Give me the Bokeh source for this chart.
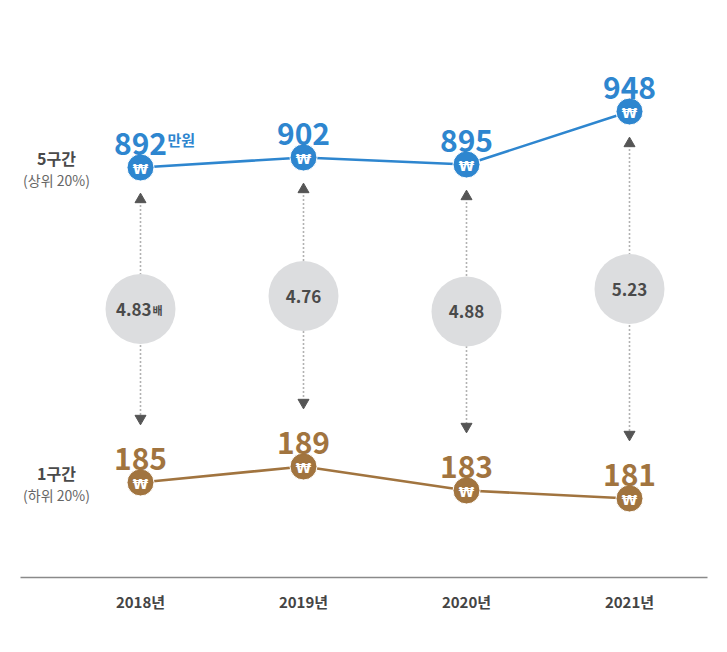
from bokeh.plotting import figure
from bokeh.models import Range1d
from bokeh.core.properties import value
from bokeh.embed import file_html
from bokeh.resources import INLINE

# ---- data ----
years = [2018, 2019, 2020, 2021]
year_labels = ["2018년", "2019년", "2020년", "2021년"]
top_values = [892, 902, 895, 948]      # 5구간 (상위 20%), 만원
bottom_values = [185, 189, 183, 181]   # 1구간 (하위 20%), 만원
ratios = ["4.83", "4.76", "4.88", "5.23"]
ratio_unit = "배"
value_unit = "만원"
top_name, top_sub = "5구간", "(상위 20%)"
bottom_name, bottom_sub = "1구간", "(하위 20%)"

# ---- style ----
FONT = value("Noto Sans CJK KR")
BLUE = "#2E86CF"
BROWN = "#A1743F"
GREY_TXT = "#4a4a4a"
W, H = 711, 636

# ranges
x_start = 2018 - 140 / 163.0
x_end = x_start + W / 163.0
up_range = Range1d(423, 1059)
lo_range = Range1d(146.5, 305.5)
main_y = Range1d(636, 0)   # pixel-like coordinates, top = 0


def to_px(v, rng):
    # position (in main range) of a value of an extra range
    frac = (v - rng.start) / (rng.end - rng.start)
    return main_y.start + frac * (main_y.end - main_y.start)


p = figure(width=W, height=H, x_range=Range1d(x_start, x_end), y_range=main_y,
           output_backend="svg", toolbar_location=None, min_border=0,
           background_fill_color="white", border_fill_color="white")
p.extra_y_ranges = {"up": up_range, "lo": lo_range}
p.axis.visible = False
p.grid.visible = False
p.outline_line_color = None

# ---- dotted arrows and ratio circles ----
tips_up, tips_lo, mids = [], [], []
for yr, tv, bv in zip(years, top_values, bottom_values):
    tu = to_px(tv, up_range) + 26
    tl = to_px(bv, lo_range) - 58
    tips_up.append(tu)
    tips_lo.append(tl)
    mids.append((tu + tl) / 2)

p.segment(x0=years, x1=years, y0=[t + 8 for t in tips_up], y1=[t - 8 for t in tips_lo],
          line_color="#666666", line_width=1.6, line_dash="1 3")
p.scatter(x=years, y=[t + 6 for t in tips_up], marker="triangle", size=11,
          fill_color="#555555", line_color="#555555")
p.scatter(x=years, y=[t - 6 for t in tips_lo], marker="inverted_triangle", size=11,
          fill_color="#555555", line_color="#555555")
p.scatter(x=years, y=mids, marker="circle", size=70, fill_color="#DCDDDF", line_color=None)

for i, (yr, r, m) in enumerate(zip(years, ratios, mids)):
    if i == 0:
        p.text(x=[yr], y=[m], text=[r], text_font=FONT, text_font_style="bold",
               text_font_size="17px", text_color=GREY_TXT, text_align="right",
               text_baseline="middle", x_offset=11)
        p.text(x=[yr], y=[m], text=[ratio_unit], text_font=FONT, text_font_style="bold",
               text_font_size="11px", text_color=GREY_TXT, text_align="left",
               text_baseline="middle", x_offset=12, y_offset=1)
    else:
        p.text(x=[yr], y=[m], text=[r], text_font=FONT, text_font_style="bold",
               text_font_size="17px", text_color=GREY_TXT, text_align="center",
               text_baseline="middle")

# ---- series ----
for vals, rng, col in ((top_values, "up", BLUE), (bottom_values, "lo", BROWN)):
    p.line(x=years, y=vals, y_range_name=rng, line_color=col, line_width=2.6)
    p.scatter(x=years, y=vals, y_range_name=rng, marker="circle", size=27,
              fill_color=col, line_color="white", line_width=1)
    p.text(x=years, y=vals, y_range_name=rng, text=["₩"] * len(years),
           text_font=value("DejaVu Sans"),
           text_font_style="bold", text_font_size="14px", text_color="white",
           text_align="center", text_baseline="middle", y_offset=1)
    p.text(x=years, y=vals, y_range_name=rng, text=[str(v) for v in vals], text_font=FONT,
           text_font_style="bold", text_font_size="30px", text_color=col,
           text_align="center", text_baseline="alphabetic", y_offset=-24)

p.text(x=[years[0]], y=[top_values[0]], y_range_name="up", text=[value_unit], text_font=FONT,
       text_font_style="bold", text_font_size="15px", text_color=BLUE,
       text_align="left", text_baseline="alphabetic", x_offset=27, y_offset=-28)

# ---- series names on the left ----
label_x = x_start + 56 / 163.0
for name, sub, v, rng in ((top_name, top_sub, top_values[0], "up"),
                          (bottom_name, bottom_sub, bottom_values[0], "lo")):
    p.text(x=[label_x], y=[v], y_range_name=rng, text=[name], text_font=FONT,
           text_font_style="bold", text_font_size="16px", text_color=GREY_TXT,
           text_align="center", text_baseline="middle", y_offset=-10)
    p.text(x=[label_x], y=[v], y_range_name=rng, text=[sub], text_font=FONT,
           text_font_size="14px", text_color="#666666",
           text_align="center", text_baseline="middle", y_offset=12)

# ---- bottom baseline and year labels ----
p.segment(x0=[x_start + 20 / 163.0], x1=[x_start + 707 / 163.0], y0=[577], y1=[577],
          line_color="#8a8a8a", line_width=1.5)
p.text(x=years, y=[601] * len(years), text=year_labels, text_font=FONT,
       text_font_style="bold", text_font_size="15px", text_color="#444444",
       text_align="center", text_baseline="middle")

open("out.html", "w").write(file_html(p, INLINE))
